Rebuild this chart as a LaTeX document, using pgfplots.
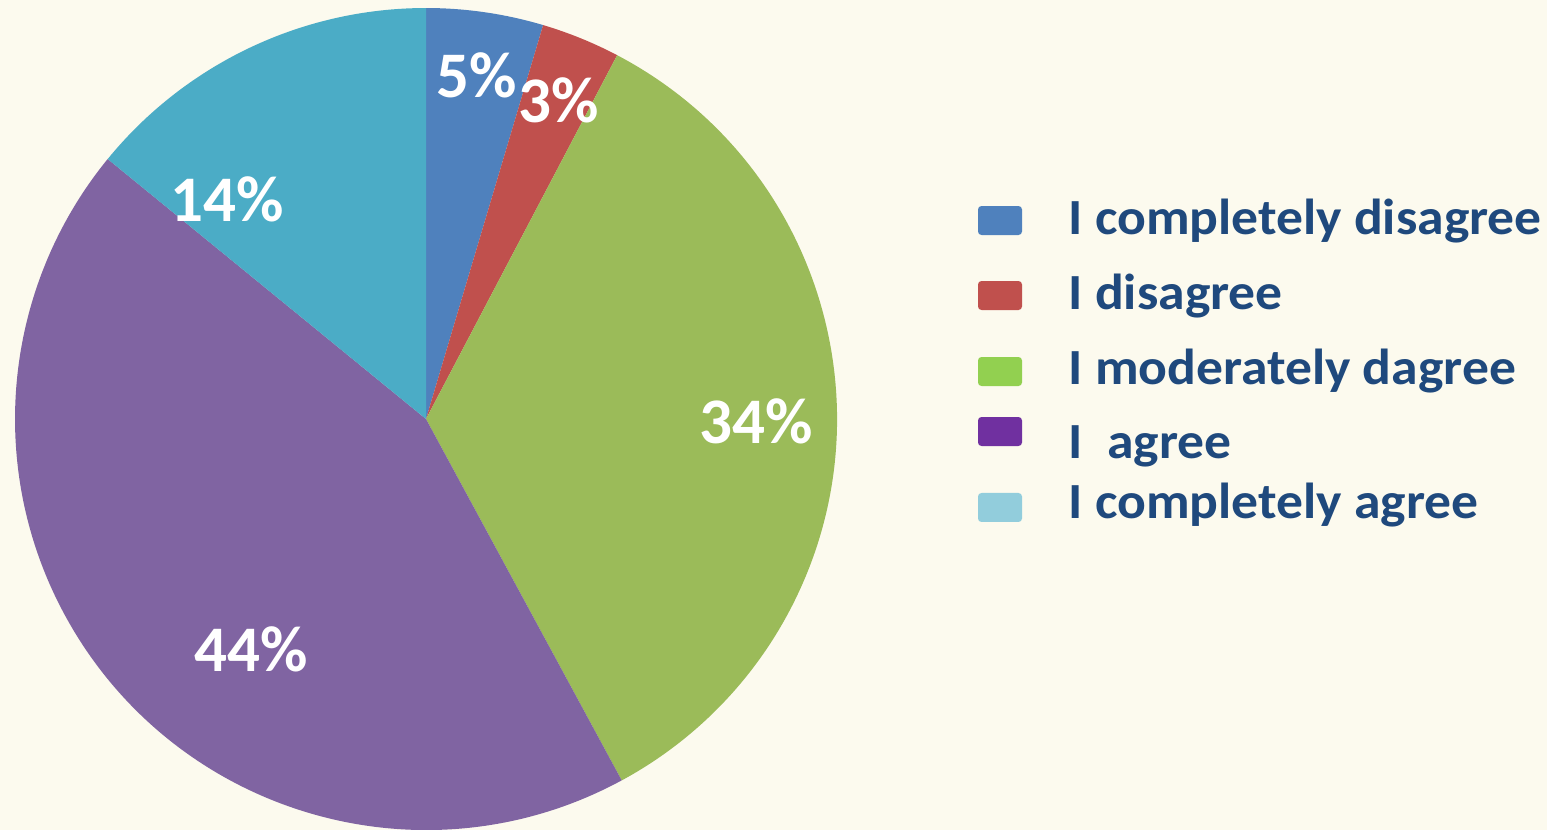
\documentclass[border=0pt]{standalone}
\usepackage{graphicx}
\usepackage{pgfplots}
\pgfplotsset{compat=1.18}
\usepackage{fontspec}
\setmainfont{Carlito}
\definecolor{bg}{HTML}{FCFAEE}
\definecolor{sA}{HTML}{4F81BD}
\definecolor{sB}{HTML}{C0504D}
\definecolor{sC}{HTML}{9BBB59}
\definecolor{sD}{HTML}{8064A2}
\definecolor{sE}{HTML}{4BACC6}
\definecolor{lA}{HTML}{4F81BD}
\definecolor{lB}{HTML}{C0504D}
\definecolor{lC}{HTML}{92D050}
\definecolor{lD}{HTML}{7030A0}
\definecolor{lE}{HTML}{92CDDC}
\definecolor{txt}{HTML}{1F497D}
\newcommand{\legstretch}[1]{\scalebox{1.06}[1]{#1}}
\begin{document}
\begin{tikzpicture}
\begin{axis}[
  scale only axis, width=15.47cm, height=8.30cm,
  xmin=0, xmax=1547, ymin=0, ymax=830, y dir=reverse,
  hide axis, clip=false,
]
\fill[bg] (axis cs:0,0) rectangle (axis cs:1547,830);
% pie, clockwise from the top; shares in percent: 4.6, 3.1, 34.4, 43.8, 14.1
% (centre 426,419 ; radius 411 units = 4.11cm)
\fill[sA] (axis cs:426,419) -- (axis cs:{426+411*cos(90)},{419-411*sin(90)})
   arc[start angle=90, end angle={90-3.6*4.6}, radius=4.11cm] -- cycle;
\fill[sB] (axis cs:426,419) -- (axis cs:{426+411*cos(90-3.6*4.6)},{419-411*sin(90-3.6*4.6)})
   arc[start angle={90-3.6*4.6}, end angle={90-3.6*7.7}, radius=4.11cm] -- cycle;
\fill[sC] (axis cs:426,419) -- (axis cs:{426+411*cos(90-3.6*7.7)},{419-411*sin(90-3.6*7.7)})
   arc[start angle={90-3.6*7.7}, end angle={90-3.6*42.1}, radius=4.11cm] -- cycle;
\fill[sD] (axis cs:426,419) -- (axis cs:{426+411*cos(90-3.6*42.1)},{419-411*sin(90-3.6*42.1)})
   arc[start angle={90-3.6*42.1}, end angle={90-3.6*85.9}, radius=4.11cm] -- cycle;
\fill[sE] (axis cs:426,419) -- (axis cs:{426+411*cos(90-3.6*85.9)},{419-411*sin(90-3.6*85.9)})
   arc[start angle={90-3.6*85.9}, end angle=-270, radius=4.11cm] -- cycle;
% percent labels
\node[white, font=\fontsize{18.5}{22}\selectfont\bfseries] at (axis cs:477,75) {5\%};
\node[white, font=\fontsize{18.5}{22}\selectfont\bfseries] at (axis cs:559,100) {3\%};
\node[white, font=\fontsize{18.5}{22}\selectfont\bfseries] at (axis cs:756,421) {34\%};
\node[white, font=\fontsize{18.5}{22}\selectfont\bfseries] at (axis cs:251,649) {44\%};
\node[white, font=\fontsize{18.5}{22}\selectfont\bfseries] at (axis cs:227,199) {14\%};
% legend keys
\fill[lA, rounded corners=1pt] (axis cs:978,206) rectangle (axis cs:1022,235);
\fill[lB, rounded corners=1pt] (axis cs:978,281) rectangle (axis cs:1022,310);
\fill[lC, rounded corners=1pt] (axis cs:978,357) rectangle (axis cs:1022,386);
\fill[lD, rounded corners=1pt] (axis cs:978,417) rectangle (axis cs:1022,446);
\fill[lE, rounded corners=1pt] (axis cs:978,493) rectangle (axis cs:1022,522);
% legend texts
\node[anchor=base west, inner sep=0pt, text=txt, font=\fontsize{14.4}{17}\selectfont\bfseries] at (axis cs:1068,234) {\legstretch{I completely disagree}};
\node[anchor=base west, inner sep=0pt, text=txt, font=\fontsize{14.4}{17}\selectfont\bfseries] at (axis cs:1068,309) {\legstretch{I disagree}};
\node[anchor=base west, inner sep=0pt, text=txt, font=\fontsize{14.4}{17}\selectfont\bfseries] at (axis cs:1068,384) {\legstretch{I moderately dagree}};
\node[anchor=base west, inner sep=0pt, text=txt, font=\fontsize{14.4}{17}\selectfont\bfseries] at (axis cs:1068,458) {\legstretch{I\ \ agree}};
\node[anchor=base west, inner sep=0pt, text=txt, font=\fontsize{14.4}{17}\selectfont\bfseries] at (axis cs:1068,519) {\legstretch{I completely agree}};
\end{axis}
\pgfresetboundingbox
\useasboundingbox (current axis.south west) rectangle (current axis.north east);
\end{tikzpicture}
\end{document}
